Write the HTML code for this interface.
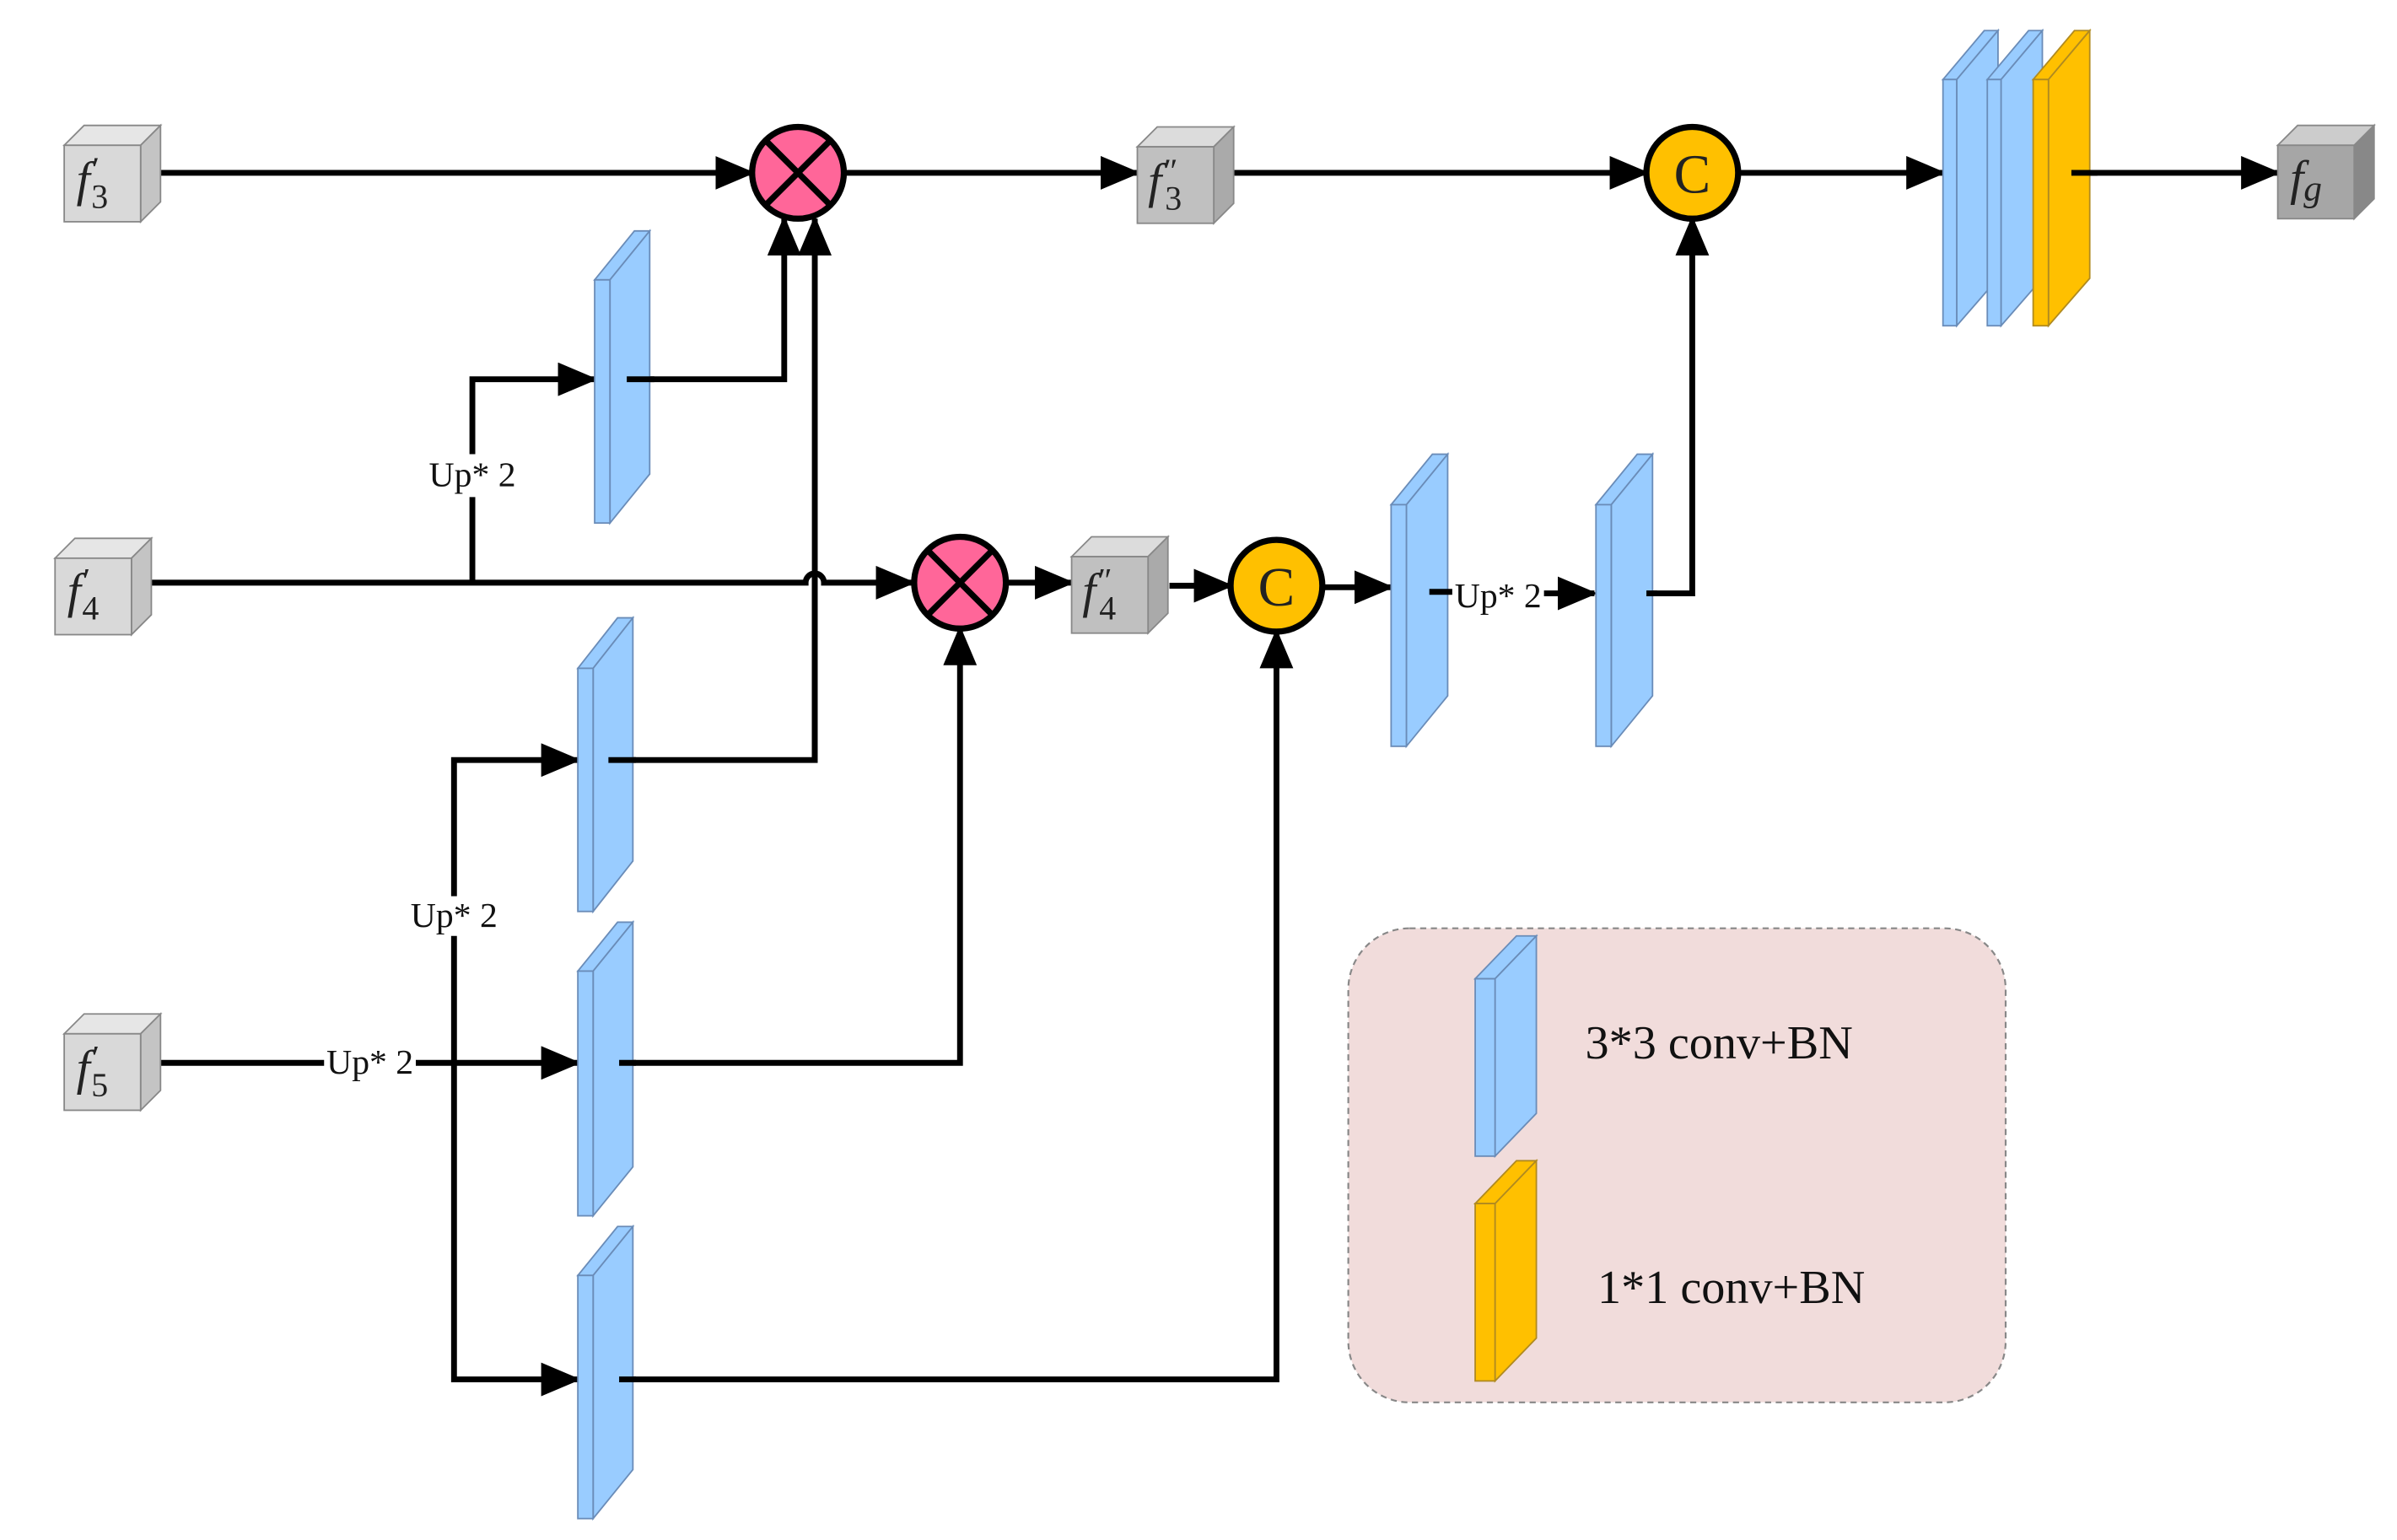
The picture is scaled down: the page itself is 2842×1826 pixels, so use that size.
<!DOCTYPE html>
<html><head><meta charset="utf-8"><style>
html,body{margin:0;padding:0;background:#fff;}
svg{display:block;}
text{font-family:"Liberation Serif",serif;}
</style></head><body>
<svg width="2842" height="1826" viewBox="0 0 1568 1007" preserveAspectRatio="none" xmlns="http://www.w3.org/2000/svg">
<defs>
<marker id="a" markerUnits="userSpaceOnUse" markerWidth="26" markerHeight="22" refX="24" refY="11" orient="auto">
<path d="M0,0 L26,11 L0,22 Z" fill="#000"/>
</marker>
</defs>
<rect width="1568" height="1007" fill="#fff"/>

<rect x="882" y="607" width="430" height="310" rx="40" fill="#f1dcdb" stroke="#888" stroke-width="1.2" stroke-dasharray="4,3"/>

<g stroke="#000" stroke-width="3.8" fill="none">
<line x1="105" y1="113" x2="492" y2="113" marker-end="url(#a)"/>
<line x1="552" y1="113" x2="744" y2="113" marker-end="url(#a)"/>
<line x1="807" y1="113" x2="1077" y2="113" marker-end="url(#a)"/>
<line x1="1137" y1="113" x2="1271" y2="113" marker-end="url(#a)"/>
<line x1="1355" y1="113" x2="1490" y2="113" marker-end="url(#a)"/>
<path d="M99,381 H527 A6,6 0 0 1 539,381 H597" marker-end="url(#a)"/>
<line x1="658" y1="381" x2="701" y2="381" marker-end="url(#a)"/>
<line x1="765" y1="383" x2="805" y2="383" marker-end="url(#a)"/>
<line x1="865" y1="384" x2="910" y2="384" marker-end="url(#a)"/>
<line x1="1010" y1="388" x2="1043" y2="388" marker-end="url(#a)"/>
<path d="M1077,388 H1107 V143" marker-end="url(#a)"/>
<path d="M309,381 V325"/>
<path d="M309,297 V248 H389" marker-end="url(#a)"/>
<path d="M410,248 H513 V143" marker-end="url(#a)"/>
<path d="M533,497 V375 M533,387 V143" marker-end="url(#a)"/>
<line x1="105" y1="695" x2="212" y2="695"/>
<line x1="272" y1="695" x2="378" y2="695" marker-end="url(#a)"/>
<path d="M297,612 V902 H378" marker-end="url(#a)"/>
<path d="M297,586 V497 H378" marker-end="url(#a)"/>
<path d="M398,497 H533 V375"/>
<path d="M405,695 H628 V411" marker-end="url(#a)"/>
<path d="M405,902 H835 V413" marker-end="url(#a)"/>
</g>

<g stroke="#6a8cb8" stroke-width="1" fill="#99ccff">
<polygon points="389,183 399,183 425,151 415,151"/><polygon points="399,183 425,151 425,310 399,342"/><rect x="389" y="183" width="10" height="159"/>
<polygon points="378,437 388,437 414,404 404,404"/><polygon points="388,437 414,404 414,563 388,596"/><rect x="378" y="437" width="10" height="159"/>
<polygon points="378,635 388,635 414,603 404,603"/><polygon points="388,635 414,603 414,763 388,795"/><rect x="378" y="635" width="10" height="160"/>
<polygon points="378,834 388,834 414,802 404,802"/><polygon points="388,834 414,802 414,961 388,993"/><rect x="378" y="834" width="10" height="159"/>
<polygon points="910,330 920,330 947,297 937,297"/><polygon points="920,330 947,297 947,455 920,488"/><rect x="910" y="330" width="10" height="158"/>
<polygon points="1044,330 1054,330 1081,297 1071,297"/><polygon points="1054,330 1081,297 1081,455 1054,488"/><rect x="1044" y="330" width="10" height="158"/>
<polygon points="1271,52 1280,52 1307,20 1298,20"/><polygon points="1280,52 1307,20 1307,182 1280,213"/><rect x="1271" y="52" width="9" height="161"/>
<polygon points="1300,52 1309,52 1336,20 1327,20"/><polygon points="1309,52 1336,20 1336,182 1309,213"/><rect x="1300" y="52" width="9" height="161"/>
<polygon points="965,640 978,640 1005,612 992,612"/><polygon points="978,640 1005,612 1005,728 978,756"/><rect x="965" y="640" width="13" height="116"/>
</g>
<g stroke="#b08a20" stroke-width="1" fill="#ffc000">
<polygon points="1330,52 1340,52 1367,20 1357,20"/><polygon points="1340,52 1367,20 1367,182 1340,213"/><rect x="1330" y="52" width="10" height="161"/>
<polygon points="965,787 978,787 1005,759 992,759"/><polygon points="978,787 1005,759 1005,875 978,903"/><rect x="965" y="787" width="13" height="116"/>
</g>
<g stroke="#000" stroke-width="3.8">
<line x1="1355" y1="113" x2="1372" y2="113"/>
<line x1="410" y1="248" x2="428" y2="248"/>
<line x1="398" y1="497" x2="416" y2="497"/>
<line x1="405" y1="695" x2="416" y2="695"/>
<line x1="405" y1="902" x2="416" y2="902"/>
<line x1="935" y1="387" x2="950" y2="387"/>
<line x1="1077" y1="388" x2="1084" y2="388"/>
</g>

<g stroke="#888" stroke-width="1">
<g><polygon points="42,95 55,82 105,82 92,95" fill="#e6e6e6"/><polygon points="92,95 105,82 105,132 92,145" fill="#c4c4c4"/><rect x="42" y="95" width="50" height="50" fill="#d9d9d9"/></g>
<g><polygon points="36,365 49,352 99,352 86,365" fill="#e6e6e6"/><polygon points="86,365 99,352 99,402 86,415" fill="#c4c4c4"/><rect x="36" y="365" width="50" height="50" fill="#d9d9d9"/></g>
<g><polygon points="42,676 55,663 105,663 92,676" fill="#e6e6e6"/><polygon points="92,676 105,663 105,713 92,726" fill="#c4c4c4"/><rect x="42" y="676" width="50" height="50" fill="#d9d9d9"/></g>
<g><polygon points="744,96 757,83 807,83 794,96" fill="#dcdcdc"/><polygon points="794,96 807,83 807,133 794,146" fill="#aaaaaa"/><rect x="744" y="96" width="50" height="50" fill="#c0c0c0"/></g>
<g><polygon points="701,364 714,351 764,351 751,364" fill="#dcdcdc"/><polygon points="751,364 764,351 764,401 751,414" fill="#aaaaaa"/><rect x="701" y="364" width="50" height="50" fill="#c0c0c0"/></g>
<g><polygon points="1490,95 1503,82 1553,82 1540,95" fill="#cccccc"/><polygon points="1540,95 1553,82 1553,130 1540,143" fill="#888"/><rect x="1490" y="95" width="50" height="48" fill="#a6a6a6"/></g>
</g>
<g font-style="italic" font-size="32" fill="#222">
<text x="50" y="128">f<tspan dy="-10" font-size="22">′</tspan><tspan dx="-4" dy="18" font-size="22" font-style="normal">3</tspan></text>
<text x="44" y="397">f<tspan dy="-10" font-size="22">′</tspan><tspan dx="-4" dy="18" font-size="22" font-style="normal">4</tspan></text>
<text x="50" y="709">f<tspan dy="-10" font-size="22">′</tspan><tspan dx="-4" dy="18" font-size="22" font-style="normal">5</tspan></text>
<text x="751" y="129">f<tspan dy="-10" font-size="22">″</tspan><tspan dx="-7" dy="18" font-size="22" font-style="normal">3</tspan></text>
<text x="708" y="397">f<tspan dy="-10" font-size="22">″</tspan><tspan dx="-7" dy="18" font-size="22" font-style="normal">4</tspan></text>
<text x="1498" y="127">f<tspan font-size="24" dy="4">g</tspan></text>
</g>

<g stroke="#000" stroke-width="4">
<circle cx="522" cy="113" r="30" fill="#ff6699"/>
<line x1="501" y1="92" x2="543" y2="134"/><line x1="543" y1="92" x2="501" y2="134"/>
<circle cx="628" cy="381" r="30" fill="#ff6699"/>
<line x1="607" y1="360" x2="649" y2="402"/><line x1="649" y1="360" x2="607" y2="402"/>
<circle cx="1107" cy="113" r="30" fill="#ffc000"/>
<circle cx="835" cy="383" r="30" fill="#ffc000"/>
</g>
<text x="1107" y="126" font-size="36" text-anchor="middle" fill="#222">C</text>
<text x="835" y="396" font-size="36" text-anchor="middle" fill="#222">C</text>

<g font-size="23" fill="#111" text-anchor="middle">
<text x="309" y="318">Up* 2</text>
<text x="297" y="606">Up* 2</text>
<text x="242" y="702">Up* 2</text>
<text x="980" y="397">Up* 2</text>
</g>
<text x="1037" y="692" font-size="31" fill="#111">3*3 conv+BN</text>
<text x="1045" y="852" font-size="31" fill="#111">1*1 conv+BN</text>
</svg>
</body></html>
